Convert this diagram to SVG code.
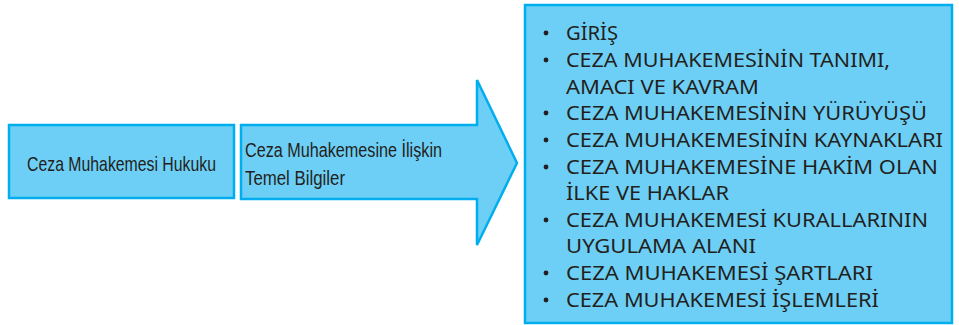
<svg xmlns="http://www.w3.org/2000/svg" width="959" height="325" viewBox="0 0 959 325">
<style>
.box{fill:#6dcff6;stroke:#00aeef;stroke-width:2.5}
.t{font-family:"Noto Sans","Liberation Sans",sans-serif;fill:#231f20;font-size:20.5px}
.c{font-family:"Liberation Sans","Noto Sans",sans-serif;fill:#231f20;font-size:21px}
.a{font-family:"Liberation Sans","Noto Sans",sans-serif;fill:#231f20;font-size:20px}
.b{fill:#231f20}
</style>
<rect width="959" height="325" fill="#ffffff"/>
<g id="node-left">
<rect class="box" x="9" y="125" width="225" height="73"/>
<text class="c" x="27" y="171" textLength="189" lengthAdjust="spacingAndGlyphs">Ceza Muhakemesi Hukuku</text>
</g>
<g id="node-arrow">
<polygon class="box" points="241,125 477,125 477,80 517,163 477,245 477,199 241,199"/>
<text class="a" x="245" y="157" textLength="197" lengthAdjust="spacingAndGlyphs">Ceza Muhakemesine İlişkin</text>
<text class="a" x="245" y="185" textLength="100" lengthAdjust="spacingAndGlyphs">Temel Bilgiler</text>
</g>
<g id="node-list">
<rect class="box" x="525" y="5" width="427" height="318"/>
<g class="b">
<circle cx="546" cy="33" r="2.4"/>
<circle cx="546" cy="60" r="2.4"/>
<circle cx="546" cy="113" r="2.4"/>
<circle cx="546" cy="140" r="2.4"/>
<circle cx="546" cy="167" r="2.4"/>
<circle cx="546" cy="220" r="2.4"/>
<circle cx="546" cy="273" r="2.4"/>
<circle cx="546" cy="300" r="2.4"/>
</g>
<text class="t" x="566" y="40" textLength="52" lengthAdjust="spacingAndGlyphs">GİRİŞ</text>
<text class="t" x="566" y="67" textLength="324" lengthAdjust="spacingAndGlyphs">CEZA MUHAKEMESİNİN TANIMI,</text>
<text class="t" x="566" y="94" textLength="193" lengthAdjust="spacingAndGlyphs">AMACI VE KAVRAM</text>
<text class="t" x="566" y="120" textLength="361" lengthAdjust="spacingAndGlyphs">CEZA MUHAKEMESİNİN YÜRÜYÜŞÜ</text>
<text class="t" x="566" y="147" textLength="377" lengthAdjust="spacingAndGlyphs">CEZA MUHAKEMESİNİN KAYNAKLARI</text>
<text class="t" x="566" y="174" textLength="372" lengthAdjust="spacingAndGlyphs">CEZA MUHAKEMESİNE HAKİM OLAN</text>
<text class="t" x="566" y="200" textLength="163" lengthAdjust="spacingAndGlyphs">İLKE VE HAKLAR</text>
<text class="t" x="566" y="227" textLength="362" lengthAdjust="spacingAndGlyphs">CEZA MUHAKEMESİ KURALLARININ</text>
<text class="t" x="566" y="253" textLength="190" lengthAdjust="spacingAndGlyphs">UYGULAMA ALANI</text>
<text class="t" x="566" y="280" textLength="307" lengthAdjust="spacingAndGlyphs">CEZA MUHAKEMESİ ŞARTLARI</text>
<text class="t" x="566" y="307" textLength="313" lengthAdjust="spacingAndGlyphs">CEZA MUHAKEMESİ İŞLEMLERİ</text>
</g>
<g id="connectors"></g>
</svg>
